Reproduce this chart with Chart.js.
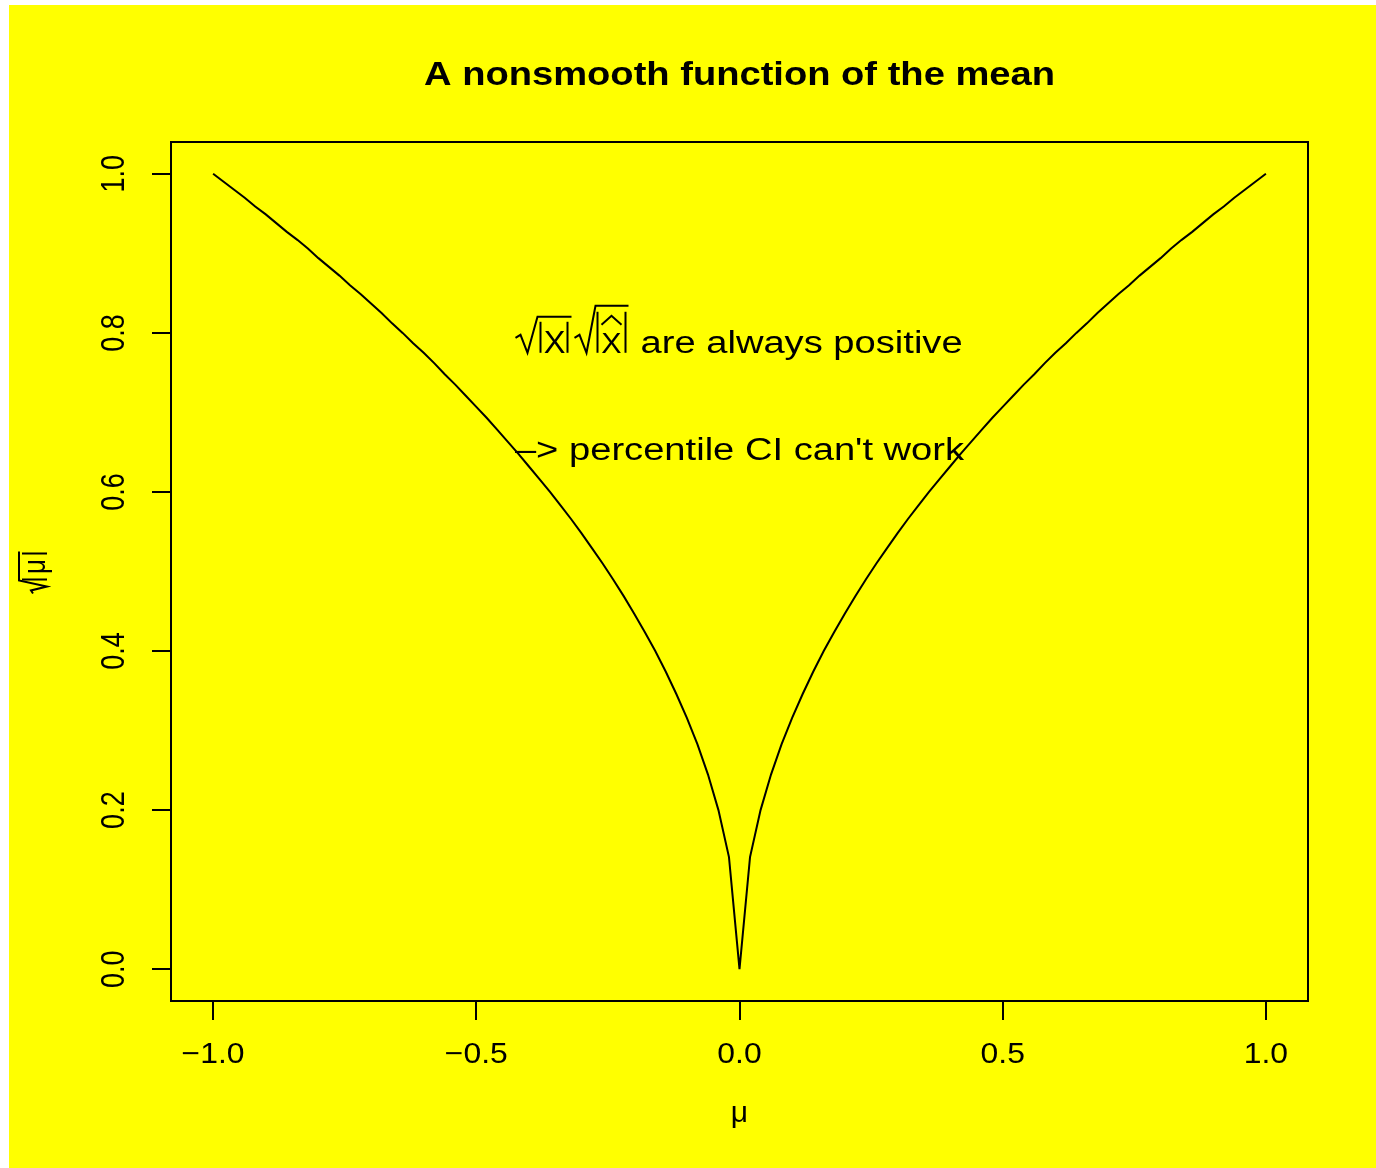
<!DOCTYPE html>
<html>
<head>
<meta charset="utf-8">
<script src="https://cdn.jsdelivr.net/npm/chart.js@4.4.1/dist/chart.umd.min.js"></script>
<style>
body { margin: 0; background: #ffffff; }
#wrap { position: absolute; left: 9px; top: 5px; width: 1367px; height: 1163px; background: #ffff00; }
</style>
</head>
<body>
<div id="wrap"><canvas id="plot"></canvas></div>
<script>
// mu grid and sqrt(|mu|) values
const mu = [
  -1.00, -0.98, -0.96, -0.94, -0.92, -0.90, -0.88, -0.86, -0.84, -0.82,
  -0.80, -0.78, -0.76, -0.74, -0.72, -0.70, -0.68, -0.66, -0.64, -0.62,
  -0.60, -0.58, -0.56, -0.54, -0.52, -0.50, -0.48, -0.46, -0.44, -0.42,
  -0.40, -0.38, -0.36, -0.34, -0.32, -0.30, -0.28, -0.26, -0.24, -0.22,
  -0.20, -0.18, -0.16, -0.14, -0.12, -0.10, -0.08, -0.06, -0.04, -0.02,
   0.00,
   0.02,  0.04,  0.06,  0.08,  0.10,  0.12,  0.14,  0.16,  0.18,  0.20,
   0.22,  0.24,  0.26,  0.28,  0.30,  0.32,  0.34,  0.36,  0.38,  0.40,
   0.42,  0.44,  0.46,  0.48,  0.50,  0.52,  0.54,  0.56,  0.58,  0.60,
   0.62,  0.64,  0.66,  0.68,  0.70,  0.72,  0.74,  0.76,  0.78,  0.80,
   0.82,  0.84,  0.86,  0.88,  0.90,  0.92,  0.94,  0.96,  0.98,  1.00
];
const rootMu = [
  1.000, 0.990, 0.980, 0.970, 0.959, 0.949, 0.938, 0.927, 0.917, 0.906,
  0.894, 0.883, 0.872, 0.860, 0.849, 0.837, 0.825, 0.812, 0.800, 0.787,
  0.775, 0.762, 0.748, 0.735, 0.721, 0.707, 0.693, 0.678, 0.663, 0.648,
  0.632, 0.616, 0.600, 0.583, 0.566, 0.548, 0.529, 0.510, 0.490, 0.469,
  0.447, 0.424, 0.400, 0.374, 0.346, 0.316, 0.283, 0.245, 0.200, 0.141,
  0.000,
  0.141, 0.200, 0.245, 0.283, 0.316, 0.346, 0.374, 0.400, 0.424, 0.447,
  0.469, 0.490, 0.510, 0.529, 0.548, 0.566, 0.583, 0.600, 0.616, 0.632,
  0.648, 0.663, 0.678, 0.693, 0.707, 0.721, 0.735, 0.748, 0.762, 0.775,
  0.787, 0.800, 0.812, 0.825, 0.837, 0.849, 0.860, 0.872, 0.883, 0.894,
  0.906, 0.917, 0.927, 0.938, 0.949, 0.959, 0.970, 0.980, 0.990, 1.000
];

const xTicks = [-1, -0.5, 0, 0.5, 1];
const xTickLabels = ['\u22121.0', '\u22120.5', '0.0', '0.5', '1.0'];
const yTicks = [0, 0.2, 0.4, 0.6, 0.8, 1.0];
const yTickLabels = ['0.0', '0.2', '0.4', '0.6', '0.8', '1.0'];

const mainTitle = 'A nonsmooth function of the mean';
const xTitle = '\u03bc';
const note1 = 'are always positive';
const note2 = '\u2013> percentile CI can\'t work';

const FONT = '"Liberation Sans", Arial, Helvetica, sans-serif';

// text with a horizontal stretch (the plot is wider than it is tall)
function txt(ctx, s, x, y, size, o) {
    o = o || {};
    ctx.save();
    ctx.translate(x, y);
    if (o.rot) ctx.rotate(o.rot);
    ctx.scale(o.sx || 1, o.sy || 1);
    ctx.font = (o.bold ? 'bold ' : '') + size + 'px ' + FONT;
    ctx.fillStyle = '#000';
    ctx.textAlign = o.align || 'center';
    ctx.textBaseline = o.base || 'alphabetic';
    ctx.fillText(s, 0, 0);
    ctx.restore();
}

function poly(ctx, pts, ox, oy) {
    ctx.beginPath();
    pts.forEach((p, i) => {
        if (i === 0) ctx.moveTo(ox + p[0], oy + p[1]);
        else ctx.lineTo(ox + p[0], oy + p[1]);
    });
    ctx.stroke();
}

// sqrt(|X|) sqrt(|X hat|) are always positive
function drawNote1(ctx, cx, by) {
    ctx.save();
    ctx.strokeStyle = '#000';
    ctx.lineWidth = 2;
    ctx.lineJoin = 'miter';
    poly(ctx, [[-224, -15], [-219, -18], [-212, 0], [-202, -36], [-168, -36]], cx, by);
    poly(ctx, [[-199, -31], [-199, 0]], cx, by);
    poly(ctx, [[-172, -31], [-172, 0]], cx, by);
    txt(ctx, 'X', cx - 185, by, 31, { sx: 1.05 });
    poly(ctx, [[-165, -15], [-160, -18], [-153, 0], [-144, -47], [-111, -47]], cx, by);
    poly(ctx, [[-142, -41], [-142, 0]], cx, by);
    poly(ctx, [[-114, -41], [-114, 0]], cx, by);
    poly(ctx, [[-138, -28], [-128, -37], [-118, -28]], cx, by);
    txt(ctx, 'X', cx - 128, by, 29, { sx: 1.05 });
    txt(ctx, note1, cx - 99, by, 31, { sx: 1.23, align: 'left' });
    ctx.restore();
}

// rotated sqrt(|mu|) for the y axis
function drawYTitle(ctx, cx, cy) {
    ctx.save();
    ctx.translate(cx, cy);
    ctx.rotate(-Math.PI / 2);
    ctx.strokeStyle = '#000';
    ctx.lineWidth = 2;
    poly(ctx, [[-22, -2], [-19, -4], [-15, 12], [-9, -16], [20, -16]], 0, 0);
    poly(ctx, [[-8, -13], [-8, 12]], 0, 0);
    poly(ctx, [[18, -13], [18, 12]], 0, 0);
    ctx.font = '26px ' + FONT;
    ctx.fillStyle = '#000';
    ctx.textAlign = 'center';
    ctx.save();
    ctx.scale(1, 1.2);
    ctx.fillText(xTitle, 5, 10 / 1.2);
    ctx.restore();
    ctx.restore();
}

const rPlot = {
    id: 'rPlot',
    afterDraw(chart) {
        const ctx = chart.ctx;
        const a = chart.chartArea;
        const xs = chart.scales.x;
        const ys = chart.scales.y;

        // box round the plot region
        ctx.save();
        ctx.strokeStyle = '#000';
        ctx.lineWidth = 2;
        ctx.strokeRect(a.left, a.top, a.right - a.left, a.bottom - a.top);
        ctx.restore();

        xTicks.forEach((v, i) => {
            txt(ctx, xTickLabels[i], xs.getPixelForValue(v), 1058, 29, { sx: 1.1 });
        });
        yTicks.forEach((v, i) => {
            txt(ctx, yTickLabels[i], 106, ys.getPixelForValue(v), 27, { rot: -Math.PI / 2, sy: 1.25, base: 'middle' });
        });

        const mid = (a.left + a.right) / 2;
        txt(ctx, mainTitle, mid, 80, 33, { bold: true, sx: 1.155 });
        txt(ctx, xTitle, mid, 1117, 30);
        drawYTitle(ctx, 26, (a.top + a.bottom) / 2);

        const cx = xs.getPixelForValue(0);
        drawNote1(ctx, cx, ys.getPixelForValue(0.775));
        txt(ctx, note2, cx, ys.getPixelForValue(0.64), 31, { sx: 1.23 });
    }
};

const points = mu.map((m, i) => ({ x: m, y: rootMu[i] }));

new Chart(document.getElementById('plot'), {
    type: 'line',
    data: {
        datasets: [{
            data: points,
            borderColor: '#000000',
            borderWidth: 2,
            pointRadius: 0,
            tension: 0,
            fill: false
        }]
    },
    options: {
        responsive: true,
        maintainAspectRatio: false,
        animation: false,
        layout: { padding: { left: 0, top: 137, right: 68, bottom: 0 } },
        plugins: {
            legend: { display: false },
            tooltip: { enabled: false },
            title: { display: false }
        },
        scales: {
            x: {
                type: 'linear',
                min: -1.08,
                max: 1.08,
                afterBuildTicks: s => { s.ticks = xTicks.map(v => ({ value: v })); },
                afterFit: s => { s.height = 167; },
                ticks: { display: false },
                border: { display: false },
                grid: { drawOnChartArea: false, drawTicks: true, tickLength: 19, color: '#000', lineWidth: 2 }
            },
            y: {
                type: 'linear',
                min: -0.04,
                max: 1.04,
                afterBuildTicks: s => { s.ticks = yTicks.map(v => ({ value: v })); },
                afterFit: s => { s.width = 162; },
                ticks: { display: false },
                border: { display: false },
                grid: { drawOnChartArea: false, drawTicks: true, tickLength: 19, color: '#000', lineWidth: 2 }
            }
        }
    },
    plugins: [rPlot]
});
</script>
</body>
</html>
